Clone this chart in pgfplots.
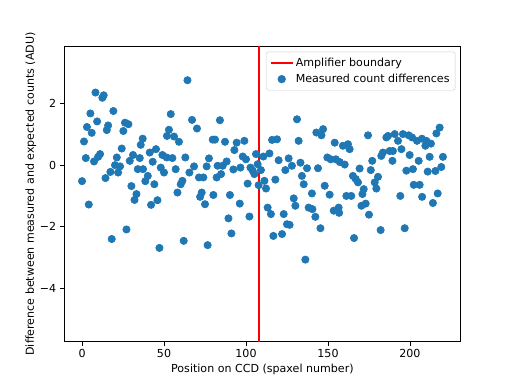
\documentclass[border=0pt]{standalone}
\usepackage{fontspec}
\setmainfont{DejaVu Sans}
\usepackage{pgfplots}
\usepackage{pgfplotstable}
\pgfplotsset{compat=1.18}
\definecolor{mplblue}{HTML}{1F77B4}
\definecolor{mplred}{HTML}{FF0000}

\pgfplotstableread{
x y
0.0 -0.52
1.2 0.77
2.3 0.23
3.0 1.24
4.1 -1.28
5.1 1.68
5.9 1.05
7.3 0.12
8.2 2.36
9.2 1.42
9.8 0.27
11.0 0.36
12.4 2.19
13.2 2.27
14.3 -0.42
15.1 1.14
15.9 1.29
17.3 -0.22
18.1 -2.40
19.1 1.76
20.1 0.00
21.2 0.25
22.0 -0.24
23.2 -0.04
24.2 0.54
25.2 1.11
26.2 1.38
27.1 -2.09
28.3 1.33
29.1 0.14
30.1 -0.68
31.1 0.33
32.0 -1.13
33.2 -0.94
34.0 -0.13
35.2 0.23
35.8 0.66
37.0 0.86
37.2 -0.13
38.6 -0.52
40.1 -0.35
41.3 0.41
42.1 -1.29
43.1 0.11
44.1 -0.62
45.1 0.52
46.0 -1.14
47.2 -2.69
48.0 -0.08
49.0 0.33
50.0 -0.24
51.6 0.25
51.8 0.95
53.0 1.15
54.1 1.66
55.1 0.23
56.1 0.93
57.1 -0.13
58.2 -0.89
59.1 0.76
60.2 -0.62
61.2 -0.51
62.0 -2.46
63.0 0.25
64.3 2.76
65.5 -0.24
67.1 1.47
68.3 -0.04
70.1 1.19
71.3 -0.40
72.0 -1.03
73.0 -0.89
74.0 -0.40
75.0 -1.27
76.0 -0.04
76.6 -2.60
77.4 0.22
79.7 0.83
80.1 -0.97
81.1 0.83
82.1 -0.40
82.7 -0.02
84.1 1.46
84.8 -0.29
85.8 -0.02
87.2 0.76
88.2 0.12
89.3 -1.73
90.2 -0.97
91.1 -2.22
92.3 -0.14
92.9 0.49
94.3 0.73
96.2 -1.25
96.6 -0.08
98.0 0.28
99.0 0.79
100.0 0.19
101.0 -0.60
102.1 -1.67
102.7 -0.08
104.1 -0.18
105.1 -0.29
106.1 0.36
107.1 0.03
107.7 -0.65
109.1 -0.16
110.6 0.28
111.2 -0.51
112.2 -0.76
113.2 -1.38
114.3 0.38
115.2 -1.59
115.9 0.82
116.7 -2.30
117.9 -0.47
118.9 0.84
119.9 0.16
122.0 -2.24
123.0 -1.59
124.0 -0.16
125.0 -1.92
126.0 0.22
126.6 -1.94
128.0 -0.02
129.1 -1.08
130.1 -1.32
131.1 1.49
132.1 0.79
133.2 0.08
134.1 -0.35
135.2 -0.62
136.2 -3.07
137.2 -0.10
138.2 -1.38
140.2 -0.92
140.5 -1.43
142.3 -1.68
142.9 1.06
143.9 -0.10
145.4 -2.05
146.0 0.97
147.0 1.17
148.0 -0.67
149.6 0.25
151.0 -0.96
151.7 0.19
153.5 -1.48
154.1 0.73
154.8 0.19
156.5 -1.38
156.8 -1.55
157.2 0.10
159.1 0.63
160.2 0.02
161.2 -1.00
162.2 0.68
163.2 0.52
164.2 -1.00
165.2 -0.35
165.9 -2.37
166.9 -0.45
168.3 -0.56
169.3 -0.11
170.4 -1.32
171.0 -0.94
171.8 -0.78
173.0 -1.25
174.4 0.97
175.0 -1.61
176.1 -0.16
177.0 0.14
178.5 -0.56
179.5 -0.76
180.5 -0.38
182.1 -2.11
182.5 0.30
183.5 0.41
185.6 0.90
186.6 0.95
187.6 0.46
189.3 0.14
189.6 0.46
190.7 1.01
192.7 0.79
194.1 -1.00
194.8 0.52
195.7 1.01
196.8 -2.05
197.8 -0.18
199.2 0.97
199.8 0.33
201.3 0.90
201.8 -0.13
202.3 -0.64
204.3 0.79
205.3 0.14
205.9 -0.64
207.3 0.86
207.4 -1.03
209.4 0.63
210.0 0.79
210.8 -0.21
212.0 0.27
212.8 0.70
214.0 -1.23
215.5 -0.19
216.1 1.03
216.9 -0.92
218.1 1.22
219.1 -0.06
220.1 0.27
}\counts

\begin{document}
\begin{tikzpicture}
% 512x384 px figure at 0.9bp per px
\path[use as bounding box] (-57.6bp,-38.016bp) rectangle (403.2bp,307.584bp);
\begin{axis}[
  at={(0,0)}, anchor=south west,
  scale only axis,
  width=357.12bp, height=266.11bp,
  xmin=-11, xmax=231,
  ymin=-5.74, ymax=3.87,
  xtick={0,50,100,150,200},
  xticklabels={0,50,100,150,200},
  ytick={-4,-2,0,2},
  yticklabels={−4,−2,0,2},
  xtick pos=left, ytick pos=left,
  tick align=outside,
  major tick length=3.5pt,
  tick style={black, line width=0.8pt},
  axis line style={line width=0.8pt},
  ticklabel style={font=\fontsize{10}{12}\selectfont},
  xlabel={Position on CCD (spaxel number)},
  ylabel={Difference between measured and expected counts (ADU)},
  xlabel style={at={(axis description cs:0.5,-0.1048)}, anchor=base, font=\fontsize{10}{12}\selectfont},
  ylabel style={at={(axis description cs:-0.0756,0.5)}, anchor=base, font=\fontsize{10}{12}\selectfont},
  legend cell align=left,
  legend style={
    at={(axis description cs:1,1)}, anchor=north east,
    xshift=-5pt, yshift=-5pt,
    draw=black!20, rounded corners=2pt,
    fill=white, fill opacity=0.8, text opacity=1, draw opacity=1,
    font=\fontsize{10}{12}\selectfont,
    inner xsep=3pt, inner ysep=3.5pt, row sep=1.5pt,
  },
]
\addlegendimage{legend image code/.code={\draw[mplred, line width=1.5pt] (2pt,0pt) -- (22pt,0pt);}}
\addlegendentry{Amplifier boundary}
\addplot[only marks, mark=*, mark size=3.3pt, color=mplblue,
  mark options={line width=0.6pt},
  legend image code/.code={\fill[mplblue, fill opacity=1] (12pt,0pt) circle (3.5pt);}]
  table[x=x, y=y] {\counts};
\addlegendentry{Measured count differences}
\addplot[mplred, line width=1.5pt, forget plot] coordinates {(108,-10) (108,10)};
\end{axis}
\end{tikzpicture}
\end{document}
